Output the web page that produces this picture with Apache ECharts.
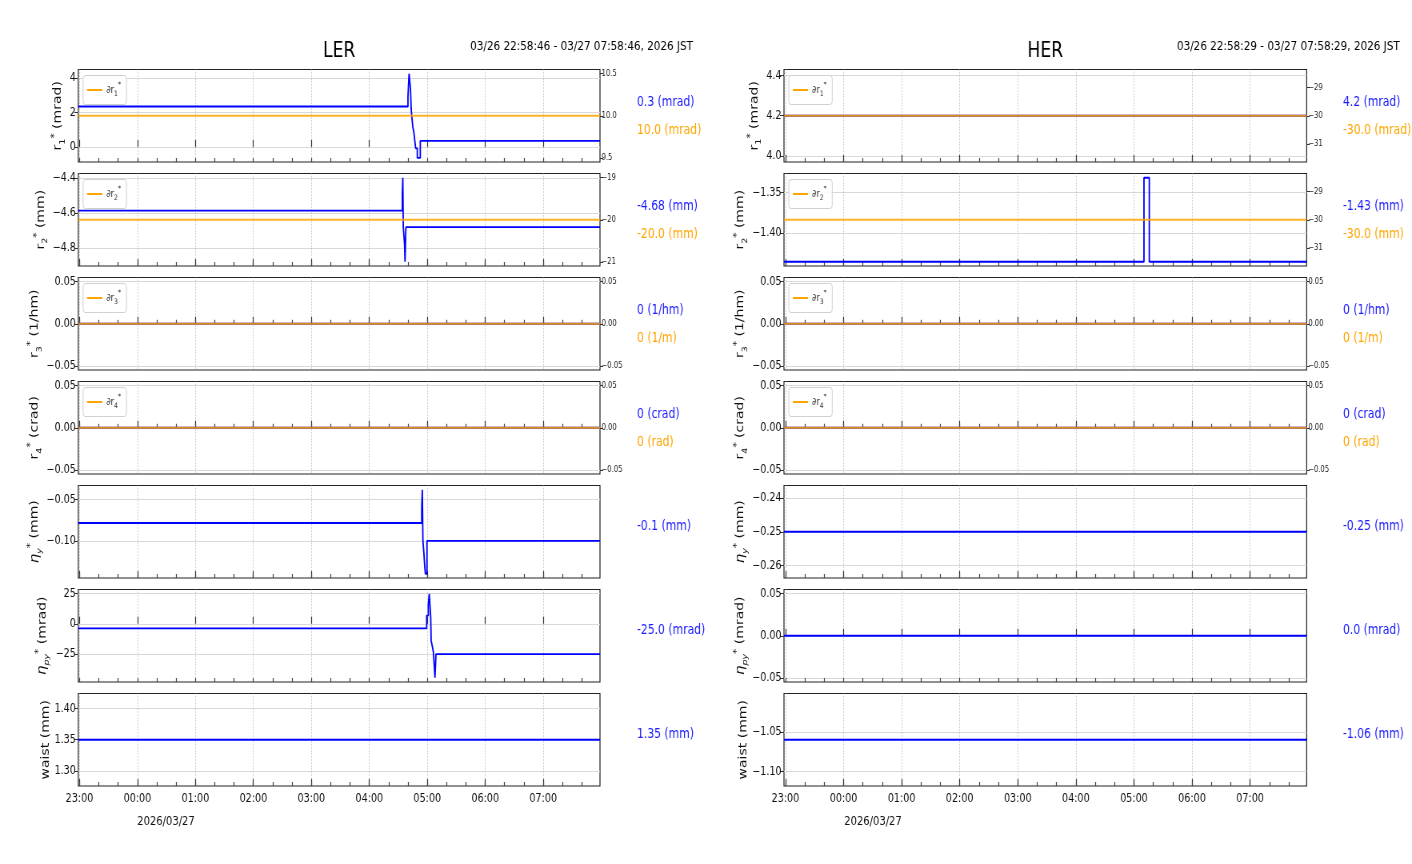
<!DOCTYPE html>
<html><head><meta charset="utf-8">
<script src="https://cdn.jsdelivr.net/npm/echarts@6/dist/echarts.min.js"></script>
<style>
html,body{margin:0;padding:0;background:#fff;overflow:hidden}
#wrap{width:1412px;height:864px;overflow:hidden;position:relative}
#c{width:1765px;height:864px;transform:scaleX(0.8);transform-origin:0 0;position:absolute;left:0;top:0}
</style>
</head><body><div id="wrap"><div id="c"></div></div>
<script>
// ---------------- data ----------------
const LER_START = '22:58:46', LER_END = '07:58:46';
const HER_START = '22:58:29', HER_END = '07:58:29';
const LER_RANGE_TEXT = '03/26 22:58:46 - 03/27 07:58:46, 2026 JST';
const HER_RANGE_TEXT = '03/26 22:58:29 - 03/27 07:58:29, 2026 JST';
const DATE_TEXT = '2026/03/27';
const hourTicks = ['23:00','00:00','01:00','02:00','03:00','04:00','05:00','06:00','07:00'];

// LER
const ler_r1 = [['22:58:46',2.34],['04:40:00',2.9],['04:40:40',3.7],['04:41:10',4.24],['04:42:40',3.3],['04:43:20',2.2],['04:44:00',1.75],['04:45:00',1.17],['04:46:00',0.88],['04:47:00',0.39],['04:48:00',-0.08],['04:49:40',-0.63],['04:52:46',0.35],['07:58:46',0.35]];
const ler_dr1 = [['22:58:46',10.0],['07:58:46',10.0]];
const ler_r2 = [['22:58:46',-4.585],['04:34:10',-4.49],['04:34:40',-4.398],['04:35:10',-4.68],['04:36:30',-4.78],['04:37:00',-4.877],['04:37:50',-4.68],['07:58:46',-4.68]];
const ler_dr2 = [['22:58:46',-20.0],['07:58:46',-20.0]];
const ler_r3 = [['22:58:46',0],['07:58:46',0]];
const ler_dr3 = [['22:58:46',0],['07:58:46',0]];
const ler_r4 = [['22:58:46',0],['07:58:46',0]];
const ler_dr4 = [['22:58:46',0],['07:58:46',0]];
const ler_ny = [['22:58:46',-0.0784],['04:54:16',-0.06],['04:54:50',-0.0383],['04:55:30',-0.1],['04:56:30',-0.115],['04:57:20',-0.13],['04:58:00',-0.1396],['04:59:40',-0.1],['07:58:46',-0.1]];
const ler_npy = [['22:58:46',-3.8],['04:59:22',6.8],['05:01:04',16],['05:02:04',24.8],['05:03:34',5],['05:04:00',-14],['05:05:34',-20],['05:06:20',-23.5],['05:07:58',-44.6],['05:09:00',-25],['07:58:46',-25]];
const ler_waist = [['22:58:46',1.35],['07:58:46',1.35]];
// HER
const her_r1 = [['22:58:29',4.2],['07:58:29',4.2]];
const her_dr1 = [['22:58:29',-30.0],['07:58:29',-30.0]];
const her_r2 = [['22:58:29',-1.435],['05:10:23',-1.332],['05:15:53',-1.435],['07:58:29',-1.435]];
const her_dr2 = [['22:58:29',-30.0],['07:58:29',-30.0]];
const her_r3 = [['22:58:29',0],['07:58:29',0]];
const her_dr3 = [['22:58:29',0],['07:58:29',0]];
const her_r4 = [['22:58:29',0],['07:58:29',0]];
const her_dr4 = [['22:58:29',0],['07:58:29',0]];
const her_ny = [['22:58:29',-0.25],['07:58:29',-0.25]];
const her_npy = [['22:58:29',0],['07:58:29',0]];
const her_waist = [['22:58:29',-1.06],['07:58:29',-1.06]];

// tick values
const ler_ticks = {r1:[0,2,4], r1r:[9.5,10,10.5], r2:[-4.8,-4.6,-4.4], r2r:[-21,-20,-19], r3:[-0.05,0,0.05], r4:[-0.05,0,0.05], ny:[-0.10,-0.05], npy:[-25,0,25], waist:[1.30,1.35,1.40]};
const her_ticks = {r1:[4.0,4.2,4.4], r1r:[-31,-30,-29], r2:[-1.40,-1.35], r2r:[-31,-30,-29], r3:[-0.05,0,0.05], r4:[-0.05,0,0.05], ny:[-0.26,-0.25,-0.24], npy:[-0.05,0,0.05], waist:[-1.10,-1.05]};
// value labels
const ler_vals = [['0.3 (mrad)','10.0 (mrad)'],['-4.68 (mm)','-20.0 (mm)'],['0 (1/hm)','0 (1/m)'],['0 (crad)','0 (rad)'],['-0.1 (mm)'],['-25.0 (mrad)'],['1.35 (mm)']];
const her_vals = [['4.2 (mrad)','-30.0 (mrad)'],['-1.43 (mm)','-30.0 (mm)'],['0 (1/hm)','0 (1/m)'],['0 (crad)','0 (rad)'],['-0.25 (mm)'],['0.0 (mrad)'],['-1.06 (mm)']];

// ---------------- helpers ----------------
const SX = 0.8; // horizontal squeeze of the whole figure (applied by CSS)
function X(px){return px/SX;}
function toMin(t){const p=t.split(':').map(Number);let v=p[0]*60+p[1]+(p[2]||0)/60;if(p[0]<12)v+=1440;return v;}
const hourVals = hourTicks.map(toMin);
const minorVals = [];
for(let v=toMin('23:00'); v<=toMin('07:58'); v+=20) minorVals.push(v);
const FONT = '"DejaVu Sans", sans-serif';
const BLUE = '#0000ff', ORANGE = '#ffa500';
function fmt(dec){return v=>{let s=(Math.abs(v)<1e-12?0:v).toFixed(dec);return s.replace('-','\u2212');};}
function hm(v){const m=Math.round(v);const h=Math.floor(m/60)%24;const mm=m%60;return String(h).padStart(2,'0')+':'+String(mm).padStart(2,'0');}

const NC = '#111';
const nameRich = {
  b:{fontSize:14,fontFamily:FONT,color:NC,lineHeight:21},
  sub:{fontSize:9.5,fontFamily:FONT,color:NC,verticalAlign:'bottom'},
  sup:{fontSize:10.5,fontFamily:FONT,color:NC,verticalAlign:'top'},
  i:{fontSize:15,fontFamily:FONT,fontStyle:'italic',color:NC,lineHeight:21},
  subi:{fontSize:9.5,fontFamily:FONT,fontStyle:'italic',color:NC,verticalAlign:'bottom'}
};
function rname(k,u){return `{b|r}{sub|${k}}{sup|*}{b| (${u})}`;}
function ename(s,u){return `{i|\u03b7}{subi|${s}}{sup|*}{b| (${u})}`;}

const TOP0 = 69.5, STEP = 104, H = 92.5;
const cols = [
  {id:'LER', left:78.3, width:521.7, start:LER_START, end:LER_END, title:'LER', range:LER_RANGE_TEXT, dateX:166, vx:637,
   panels:[
    {b:ler_r1,o:ler_dr1,yl:[-0.8735,4.4835],tl:ler_ticks.r1,dl:0,yr:[9.45,10.55],tr:ler_ticks.r1r,dr:1,name:rname(1,'mrad'),d:21,leg:'1'},
    {b:ler_r2,o:ler_dr2,yl:[-4.901,-4.374],tl:ler_ticks.r2,dl:1,yr:[-21.1,-18.9],tr:ler_ticks.r2r,dr:0,name:rname(2,'mm'),d:40,leg:'2'},
    {b:ler_r3,o:ler_dr3,yl:[-0.055,0.055],tl:ler_ticks.r3,dl:2,yr:[-0.055,0.055],tr:ler_ticks.r3,dr:2,name:rname(3,'1/hm'),d:45,leg:'3'},
    {b:ler_r4,o:ler_dr4,yl:[-0.055,0.055],tl:ler_ticks.r4,dl:2,yr:[-0.055,0.055],tr:ler_ticks.r4,dr:2,name:rname(4,'crad'),d:45,leg:'4'},
    {b:ler_ny,yl:[-0.1447,-0.0332],tl:ler_ticks.ny,dl:2,name:ename('y','mm'),d:45},
    {b:ler_npy,yl:[-48.1,28.3],tl:ler_ticks.npy,dl:0,name:ename('py','mrad'),d:40},
    {b:ler_waist,yl:[1.27575,1.42425],tl:ler_ticks.waist,dl:2,name:'{b|waist (mm)}',d:36}
   ], vals:ler_vals},
  {id:'HER', left:784, width:522.7, start:HER_START, end:HER_END, title:'HER', range:HER_RANGE_TEXT, dateX:873, vx:1343,
   panels:[
    {b:her_r1,o:her_dr1,yl:[3.969,4.431],tl:her_ticks.r1,dl:1,yr:[-31.65,-28.35],tr:her_ticks.r1r,dr:0,name:rname(1,'mrad'),d:30,leg:'1'},
    {b:her_r2,o:her_dr2,yl:[-1.4402,-1.3268],tl:her_ticks.r2,dl:2,yr:[-31.65,-28.35],tr:her_ticks.r2r,dr:0,name:rname(2,'mm'),d:44,leg:'2'},
    {b:her_r3,o:her_dr3,yl:[-0.055,0.055],tl:her_ticks.r3,dl:2,yr:[-0.055,0.055],tr:her_ticks.r3,dr:2,name:rname(3,'1/hm'),d:44,leg:'3'},
    {b:her_r4,o:her_dr4,yl:[-0.055,0.055],tl:her_ticks.r4,dl:2,yr:[-0.055,0.055],tr:her_ticks.r4,dr:2,name:rname(4,'crad'),d:44,leg:'4'},
    {b:her_ny,yl:[-0.26375,-0.23625],tl:her_ticks.ny,dl:2,name:ename('y','mm'),d:46},
    {b:her_npy,yl:[-0.055,0.055],tl:her_ticks.npy,dl:2,name:ename('py','mrad'),d:46},
    {b:her_waist,yl:[-1.1183,-1.0017],tl:her_ticks.waist,dl:2,name:'{b|waist (mm)}',d:44}
   ], vals:her_vals}
];

const grid=[], xAxis=[], yAxis=[], series=[], legend=[], graphic=[];
const legRich = {
  b:{fontSize:10.5,fontFamily:FONT,color:'#333',lineHeight:17},
  sub:{fontSize:7.5,fontFamily:FONT,color:'#333',verticalAlign:'bottom'},
  sup:{fontSize:7.5,fontFamily:FONT,color:'#333',verticalAlign:'top'}
};

cols.forEach(col=>{
  const xmin=toMin(col.start), xmax=toMin(col.end);
  const gl=X(col.left), gw=X(col.width);
  col.panels.forEach((p,i)=>{
    const g=grid.length;
    const top=TOP0+STEP*i;
    const isBottom = i===col.panels.length-1;
    grid.push({left:gl, top:top, width:gw, height:H, show:true, borderColor:'#222', borderWidth:1.2, backgroundColor:'#fff', containLabel:false, outerBoundsMode:'none'});
    const xi=xAxis.length;
    xAxis.push({type:'value', gridIndex:g, position:'bottom', min:xmin, max:xmax,
      axisLine:{show:false},
      axisTick:{show:true, inside:true, length:7, customValues:hourVals, lineStyle:{color:'#333', width:1.2}},
      axisLabel:{show:isBottom, customValues:hourVals, formatter:hm, fontSize:12, fontFamily:FONT, color:'#111', margin:7},
      splitLine:{show:true, lineStyle:{type:[1,2], color:'#aaa', width:1}}});
    xAxis.push({type:'value', gridIndex:g, position:'bottom', min:xmin, max:xmax,
      axisLine:{show:false},
      axisTick:{show:true, inside:true, length:4, customValues:minorVals, lineStyle:{color:'#444', width:1.2}},
      axisLabel:{show:false}, splitLine:{show:false}});
    const yl=yAxis.length;
    yAxis.push({type:'value', gridIndex:g, position:'left', min:p.yl[0], max:p.yl[1],
      axisLine:{show:false},
      axisTick:{show:true, length:5, customValues:p.tl, lineStyle:{color:'#333'}},
      axisLabel:{customValues:p.tl, formatter:fmt(p.dl), fontSize:12, fontFamily:FONT, color:'#111', margin:3},
      splitLine:{show:true, lineStyle:{color:'#d9d9d9', width:1}},
      name:p.name, nameLocation:'middle', nameRotate:90, nameGap:X(p.d)-16,
      nameTextStyle:{rich:nameRich}});
    series.push({type:'line', name:col.id+' blue '+i, xAxisIndex:xi, yAxisIndex:yl, step:'end', symbol:'none', showSymbol:false, silent:true,
      data:p.b.map(d=>[toMin(d[0]),d[1]]), lineStyle:{color:BLUE,width:1.8}, itemStyle:{color:BLUE}, z:2});
    if(p.o){
      const yr=yAxis.length;
      yAxis.push({type:'value', gridIndex:g, position:'right', min:p.yr[0], max:p.yr[1],
        axisLine:{show:false},
        axisTick:{show:true, length:4, customValues:p.tr, lineStyle:{color:'#333'}},
        axisLabel:{customValues:p.tr, formatter:fmt(p.dr), fontSize:8.5, fontFamily:FONT, color:'#222', margin:2},
        splitLine:{show:false}});
      const sname=col.id+' dr'+p.leg;
      series.push({type:'line', name:sname, xAxisIndex:xi, yAxisIndex:yr, symbol:'none', showSymbol:false, silent:true,
        data:p.o.map(d=>[toMin(d[0]),d[1]]), lineStyle:{color:ORANGE,width:2.1,opacity:0.85}, itemStyle:{color:ORANGE}, z:3});
      legend.push({left:gl+6, top:top+6, data:[sname], icon:'rect', itemWidth:19, itemHeight:2, itemGap:6,
        padding:[6,7,6,5], backgroundColor:'rgba(255,255,255,0.85)', borderColor:'#d0d0d0', borderWidth:1, borderRadius:3,
        selectedMode:false, formatter:n=>`{b|\u2202r}{sub|${n.slice(-1)}}{sup|*}`, textStyle:{rich:legRich}});
    }
    // value labels
    const v=col.vals[i];
    const vfont='13.5px '+FONT;
    if(v.length===2){
      graphic.push({type:'text', x:X(col.vx), y:top+32.5, style:{text:v[0], fill:'#2020ff', font:vfont, textAlign:'left', textVerticalAlign:'middle'}});
      graphic.push({type:'text', x:X(col.vx), y:top+60.5, style:{text:v[1], fill:ORANGE, font:vfont, textAlign:'left', textVerticalAlign:'middle'}});
    } else {
      graphic.push({type:'text', x:X(col.vx), y:top+40.5, style:{text:v[0], fill:'#2020ff', font:vfont, textAlign:'left', textVerticalAlign:'middle'}});
    }
  });
  graphic.push({type:'text', x:gl+gw/2, y:51, style:{text:col.title, fill:'#000', font:'21.5px '+FONT, textAlign:'center', textVerticalAlign:'middle'}});
  graphic.push({type:'text', x:X(col.left+col.width+93), y:47, style:{text:col.range, fill:'#000', font:'13px '+FONT, textAlign:'right', textVerticalAlign:'middle'}});
  graphic.push({type:'text', x:X(col.dateX), y:822, style:{text:DATE_TEXT, fill:'#111', font:'12.5px '+FONT, textAlign:'center', textVerticalAlign:'middle'}});
});

const chart = echarts.init(document.getElementById('c'), null, {renderer:'canvas', width:1765, height:864});
chart.setOption({animation:false, backgroundColor:'#fff', grid, xAxis, yAxis, series, legend, graphic, tooltip:{show:false}});
</script></body></html>
